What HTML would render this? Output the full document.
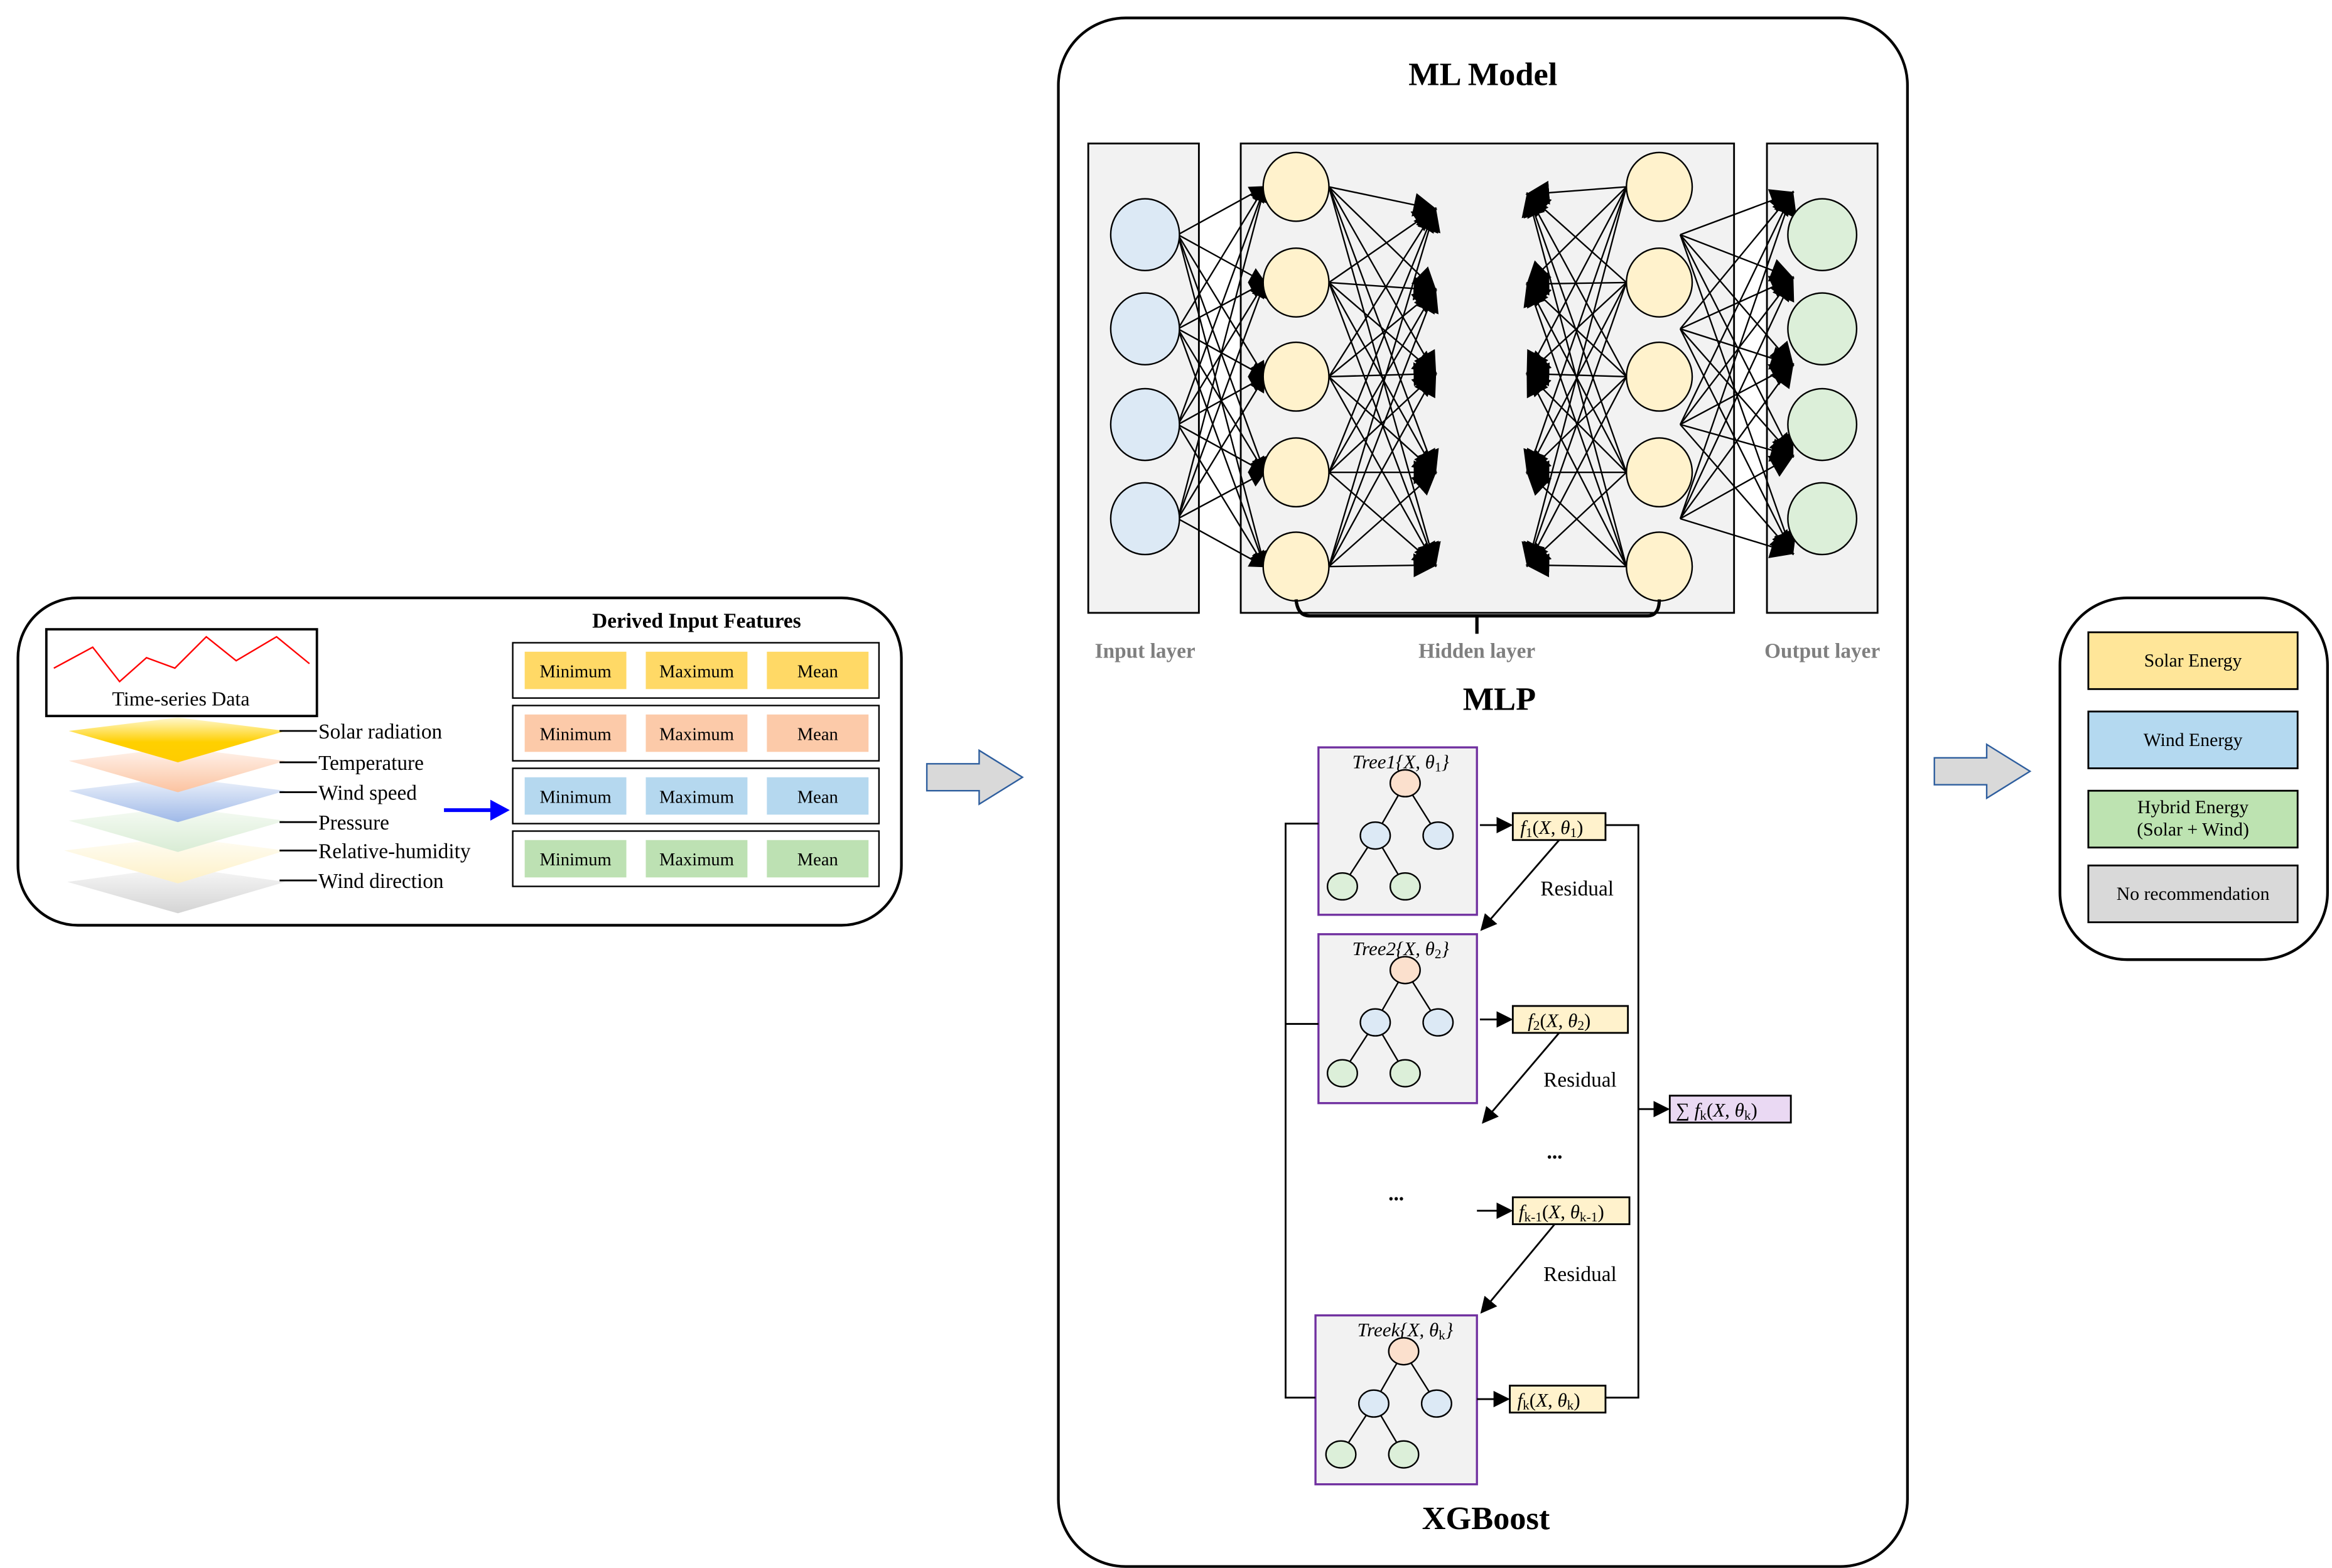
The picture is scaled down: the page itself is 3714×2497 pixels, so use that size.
<!DOCTYPE html>
<html><head><meta charset="utf-8"><style>
html,body{margin:0;padding:0;background:#fff}
svg{display:block}
text{font-family:"Liberation Serif",serif}
</style></head><body>
<svg id="s" width="3714" height="2497" viewBox="0 0 1560 1049" preserveAspectRatio="none" xmlns="http://www.w3.org/2000/svg">
<defs>
<marker id="ah" viewBox="0 0 10 10" refX="9" refY="5" markerWidth="11" markerHeight="11" markerUnits="userSpaceOnUse" orient="auto"><path d="M0,0 L10,5 L0,10 z" fill="#000"/></marker>
<marker id="ah2" viewBox="0 0 10 10" refX="9" refY="5" markerWidth="16" markerHeight="16" markerUnits="userSpaceOnUse" orient="auto"><path d="M0,0 L10,5 L0,10 z" fill="#000"/></marker>
<linearGradient id="g1" x1="0" y1="0" x2="0" y2="1"><stop offset="0" stop-color="#fff8d0"/><stop offset="0.55" stop-color="#ffd000"/><stop offset="1" stop-color="#ffcc00"/></linearGradient>
<linearGradient id="g2" x1="0" y1="0" x2="0" y2="1"><stop offset="0" stop-color="#fff4ee"/><stop offset="1" stop-color="#fbc3a0"/></linearGradient>
<linearGradient id="g3" x1="0" y1="0" x2="0" y2="1"><stop offset="0" stop-color="#eef3fb"/><stop offset="1" stop-color="#9fb9e8"/></linearGradient>
<linearGradient id="g4" x1="0" y1="0" x2="0" y2="1"><stop offset="0" stop-color="#f6fbf4"/><stop offset="1" stop-color="#d9ecd5"/></linearGradient>
<linearGradient id="g5" x1="0" y1="0" x2="0" y2="1"><stop offset="0" stop-color="#fffdf5"/><stop offset="1" stop-color="#fdf0c6"/></linearGradient>
<linearGradient id="g6" x1="0" y1="0" x2="0" y2="1"><stop offset="0" stop-color="#f8f8f8"/><stop offset="1" stop-color="#d4d4d4"/></linearGradient>
</defs>

<!-- LEFT PANEL -->
<rect x="12" y="400" width="591" height="219" rx="40" fill="#fff" stroke="#000" stroke-width="1.8"/>
<rect x="31" y="421" width="181" height="58" fill="#fff" stroke="#000" stroke-width="1.6"/>
<polyline points="36,447 62,433 80,456 98,440 117,447 138,426 158,442 185,426 207,444" fill="none" stroke="#f00" stroke-width="1"/>
<text x="121" y="472" font-size="13.5" text-anchor="middle">Time-series Data</text>
<polygon points="45,590 119,580 191,590 119,611" fill="url(#g6)"/>
<polygon points="43,569 119,560 191,569 119,591" fill="url(#g5)"/>
<polygon points="46,549 119,540 191,549 119,570" fill="url(#g4)"/>
<polygon points="46,529 119,520 191,529 119,550" fill="url(#g3)"/>
<polygon points="46,509 119,500 191,509 119,530" fill="url(#g2)"/>
<polygon points="46,489 119,480 191,489 119,510" fill="url(#g1)"/>
<g stroke="#000" stroke-width="1.2">
<line x1="187" y1="489" x2="212" y2="489"/><line x1="187" y1="510" x2="212" y2="510"/><line x1="187" y1="530" x2="212" y2="530"/><line x1="187" y1="550" x2="212" y2="550"/><line x1="187" y1="569" x2="212" y2="569"/><line x1="187" y1="589" x2="212" y2="589"/>
</g>
<g font-size="14">
<text x="213" y="494">Solar radiation</text>
<text x="213" y="515">Temperature</text>
<text x="213" y="535">Wind speed</text>
<text x="213" y="555">Pressure</text>
<text x="213" y="574">Relative-humidity</text>
<text x="213" y="594">Wind direction</text>
</g>
<line x1="297" y1="542" x2="330" y2="542" stroke="#0000ff" stroke-width="2.5"/>
<polygon points="328,535 341,542 328,549" fill="#0000ff"/>
<text x="466" y="420" font-size="14" font-weight="bold" text-anchor="middle">Derived Input Features</text>
<g stroke="#000" stroke-width="1" fill="#fff">
<rect x="343" y="430" width="245" height="37"/><rect x="343" y="472" width="245" height="37"/><rect x="343" y="514" width="245" height="37"/><rect x="343" y="556" width="245" height="37"/>
</g>
<g font-size="12" text-anchor="middle">
<rect x="351" y="436" width="68" height="25" fill="#ffd966"/><rect x="432" y="436" width="68" height="25" fill="#ffd966"/><rect x="513" y="436" width="68" height="25" fill="#ffd966"/>
<text x="385" y="453">Minimum</text><text x="466" y="453">Maximum</text><text x="547" y="453">Mean</text>
<rect x="351" y="478" width="68" height="25" fill="#fccaa9"/><rect x="432" y="478" width="68" height="25" fill="#fccaa9"/><rect x="513" y="478" width="68" height="25" fill="#fccaa9"/>
<text x="385" y="495">Minimum</text><text x="466" y="495">Maximum</text><text x="547" y="495">Mean</text>
<rect x="351" y="520" width="68" height="25" fill="#b5d8ef"/><rect x="432" y="520" width="68" height="25" fill="#b5d8ef"/><rect x="513" y="520" width="68" height="25" fill="#b5d8ef"/>
<text x="385" y="537">Minimum</text><text x="466" y="537">Maximum</text><text x="547" y="537">Mean</text>
<rect x="351" y="562" width="68" height="25" fill="#bde1b3"/><rect x="432" y="562" width="68" height="25" fill="#bde1b3"/><rect x="513" y="562" width="68" height="25" fill="#bde1b3"/>
<text x="385" y="579">Minimum</text><text x="466" y="579">Maximum</text><text x="547" y="579">Mean</text>
</g>

<!-- BIG ARROWS -->
<polygon points="620,511 655,511 655,502 684,520 655,538 655,529 620,529" fill="#d9d9d9" stroke="#2e5e9e" stroke-width="1"/>
<polygon points="1294,507 1329,507 1329,498 1358,516 1329,534 1329,525 1294,525" fill="#d9d9d9" stroke="#2e5e9e" stroke-width="1"/>

<!-- MIDDLE PANEL -->
<rect x="708" y="12" width="568" height="1036" rx="45" fill="#fff" stroke="#000" stroke-width="1.8"/>
<text x="992" y="57" font-size="22" font-weight="bold" text-anchor="middle">ML Model</text>
<g fill="#f2f2f2" stroke="#000" stroke-width="1.2">
<rect x="728" y="96" width="74" height="314"/><rect x="830" y="96" width="330" height="314"/><rect x="1182" y="96" width="74" height="314"/>
</g>
<g id="edges" stroke="#000" stroke-width="1" fill="none"></g>
<g id="nodes" stroke="#000" stroke-width="1"></g>
<path d="M867,401 Q868,412 876,412 L1102,412 Q1110,412 1110,401" fill="none" stroke="#000" stroke-width="2.2"/>
<line x1="988" y1="412" x2="988" y2="424" stroke="#000" stroke-width="2.2"/>
<g font-size="14" font-weight="bold" fill="#7f7f7f" text-anchor="middle">
<text x="766" y="440">Input layer</text><text x="988" y="440">Hidden layer</text><text x="1219" y="440">Output layer</text>
</g>
<text x="1003" y="475" font-size="22" font-weight="bold" text-anchor="middle">MLP</text>

<!-- XGBOOST -->
<g fill="#f2f2f2" stroke="#7030a0" stroke-width="1.4">
<rect x="882" y="500" width="106" height="112"/><rect x="882" y="625" width="106" height="113"/><rect x="880" y="880" width="108" height="113"/>
</g>
<g font-size="13" font-style="italic" text-anchor="middle">
<text x="937" y="514">Tree1{X, θ<tspan font-size="9" dy="2" font-style="normal">1</tspan><tspan dy="-2">}</tspan></text>
<text x="937" y="639">Tree2{X, θ<tspan font-size="9" dy="2" font-style="normal">2</tspan><tspan dy="-2">}</tspan></text>
<text x="940" y="894">Treek{X, θ<tspan font-size="9" dy="2" font-style="normal">k</tspan><tspan dy="-2">}</tspan></text>
</g>
<g id="trees" stroke="#000" stroke-width="1"></g>
<g stroke="#000" stroke-width="1.2" fill="none">
<polyline points="882,551 860,551 860,935 880,935"/><line x1="860" y1="685" x2="882" y2="685"/>
<polyline points="1074,552 1096,552 1096,935 1074,935"/>
</g>
<g stroke="#000" stroke-width="1.2" marker-end="url(#ah)">
<line x1="990" y1="552" x2="1011" y2="552"/><line x1="990" y1="682" x2="1011" y2="682"/><line x1="988" y1="810" x2="1011" y2="810"/><line x1="988" y1="936" x2="1009" y2="936"/><line x1="1096" y1="742" x2="1116" y2="742"/>
<line x1="1043" y1="562" x2="991" y2="622"/><line x1="1043" y1="691" x2="992" y2="751"/><line x1="1040" y1="819" x2="991" y2="878"/>
</g>
<g stroke="#000" stroke-width="1.2">
<rect x="1012" y="544" width="62" height="18" fill="#fff2cc"/><rect x="1012" y="673" width="77" height="18" fill="#fff2cc"/><rect x="1012" y="801" width="78" height="18" fill="#fff2cc"/><rect x="1010" y="927" width="64" height="18" fill="#fff2cc"/>
<rect x="1117" y="733" width="81" height="18" fill="#ead9f3"/>
</g>
<g font-size="13" font-style="italic">
<text x="1017" y="558">f<tspan font-size="9" dy="2" font-style="normal">1</tspan><tspan dy="-2" font-style="normal">(</tspan>X<tspan font-style="normal">, </tspan>θ<tspan font-size="9" dy="2" font-style="normal">1</tspan><tspan dy="-2" font-style="normal">)</tspan></text>
<text x="1022" y="687">f<tspan font-size="9" dy="2" font-style="normal">2</tspan><tspan dy="-2" font-style="normal">(</tspan>X<tspan font-style="normal">, </tspan>θ<tspan font-size="9" dy="2" font-style="normal">2</tspan><tspan dy="-2" font-style="normal">)</tspan></text>
<text x="1016" y="815">f<tspan font-size="9" dy="2" font-style="normal">k-1</tspan><tspan dy="-2" font-style="normal">(</tspan>X<tspan font-style="normal">, </tspan>θ<tspan font-size="9" dy="2" font-style="normal">k-1</tspan><tspan dy="-2" font-style="normal">)</tspan></text>
<text x="1015" y="941">f<tspan font-size="9" dy="2" font-style="normal">k</tspan><tspan dy="-2" font-style="normal">(</tspan>X<tspan font-style="normal">, </tspan>θ<tspan font-size="9" dy="2" font-style="normal">k</tspan><tspan dy="-2" font-style="normal">)</tspan></text>
<text x="1121" y="747"><tspan font-style="normal">∑ </tspan>f<tspan font-size="9" dy="2" font-style="normal">k</tspan><tspan dy="-2" font-style="normal">(</tspan>X<tspan font-style="normal">, </tspan>θ<tspan font-size="9" dy="2" font-style="normal">k</tspan><tspan dy="-2" font-style="normal">)</tspan></text>
</g>
<g font-size="14" text-anchor="middle">
<text x="1055" y="599">Residual</text><text x="1057" y="727">Residual</text><text x="1057" y="857">Residual</text>
<text x="1040" y="775" font-weight="bold">...</text><text x="934" y="803" font-weight="bold">...</text>
</g>
<text x="994" y="1023" font-size="22" font-weight="bold" text-anchor="middle">XGBoost</text>

<!-- RIGHT PANEL -->
<rect x="1378" y="400" width="179" height="242" rx="45" fill="#fff" stroke="#000" stroke-width="1.8"/>
<g stroke="#000" stroke-width="1.2">
<rect x="1397" y="423" width="140" height="38" fill="#ffe699"/>
<rect x="1397" y="476" width="140" height="38" fill="#b4d9f0"/>
<rect x="1397" y="529" width="140" height="38" fill="#bde3b1"/>
<rect x="1397" y="579" width="140" height="38" fill="#d9d9d9"/>
</g>
<g font-size="12.5" text-anchor="middle">
<text x="1467" y="446">Solar Energy</text>
<text x="1467" y="499">Wind Energy</text>
<text x="1467" y="544">Hybrid Energy</text>
<text x="1467" y="559">(Solar + Wind)</text>
<text x="1467" y="602">No recommendation</text>
</g>
</svg>
<script>
(function(){
var NS="http://www.w3.org/2000/svg";
function el(p,t,a){var e=document.createElementNS(NS,t);for(var k in a)e.setAttribute(k,a[k]);p.appendChild(e);return e;}
var E=document.getElementById("edges"),N=document.getElementById("nodes"),T=document.getElementById("trees");
var inY=[157,220,284,347],hY=[125,189,252,316,379];
var mL=[140,194,250,316,378],mR=[130,190,250,316,378],oT=[129,186,244,305,370];
inY.forEach(function(a){hY.forEach(function(b){el(E,"line",{x1:788,y1:a,x2:846,y2:b,"marker-end":"url(#ah)"});});});
hY.forEach(function(a){mL.forEach(function(b){el(E,"line",{x1:889,y1:a,x2:960,y2:b,"marker-end":"url(#ah2)"});});});
hY.forEach(function(a){mR.forEach(function(b){el(E,"line",{x1:1088,y1:a,x2:1022,y2:b,"marker-end":"url(#ah2)"});});});
inY.forEach(function(a){oT.forEach(function(b){el(E,"line",{x1:1124,y1:a,x2:1199,y2:b,"marker-end":"url(#ah2)"});});});
inY.forEach(function(y){el(N,"ellipse",{cx:766,cy:y,rx:23,ry:24,fill:"#dce9f5"});el(N,"ellipse",{cx:1219,cy:y,rx:23,ry:24,fill:"#dcefd9"});});
hY.forEach(function(y){el(N,"ellipse",{cx:867,cy:y,rx:22,ry:23,fill:"#fff2cc"});el(N,"ellipse",{cx:1110,cy:y,rx:22,ry:23,fill:"#fff2cc"});});
[[500,940],[625,940],[880,939]].forEach(function(t){var y=t[0],x=t[1];
 var r=[x,y+24],m=[x-20,y+59],rr=[x+22,y+59],l1=[x-42,y+93],l2=[x,y+93];
 [[r,m],[r,rr],[m,l1],[m,l2]].forEach(function(p){el(T,"line",{x1:p[0][0],y1:p[0][1],x2:p[1][0],y2:p[1][1]});});
 el(T,"ellipse",{cx:r[0],cy:r[1],rx:10,ry:9,fill:"#fbe0cd"});
 el(T,"ellipse",{cx:m[0],cy:m[1],rx:10,ry:9,fill:"#dce9f5"});
 el(T,"ellipse",{cx:rr[0],cy:rr[1],rx:10,ry:9,fill:"#dce9f5"});
 el(T,"ellipse",{cx:l1[0],cy:l1[1],rx:10,ry:9,fill:"#dcefd9"});
 el(T,"ellipse",{cx:l2[0],cy:l2[1],rx:10,ry:9,fill:"#dcefd9"});
});
})();
</script>
</body></html>
